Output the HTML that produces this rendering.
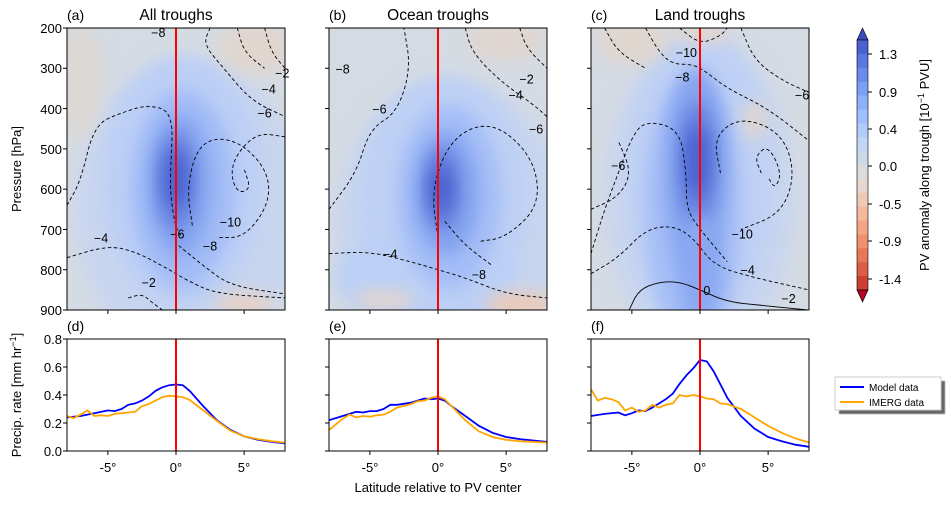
<!DOCTYPE html>
<html><head><meta charset="utf-8"><style>
html,body{margin:0;padding:0;background:#fff;}
svg text{font-family:"Liberation Sans","DejaVu Sans",sans-serif;fill:#000;}
</style></head><body>
<svg id="s" width="951" height="500" viewBox="0 0 951 500" xmlns="http://www.w3.org/2000/svg">
<defs>
<filter id="bl" x="-50%" y="-50%" width="200%" height="200%"><feGaussianBlur stdDeviation="8"/></filter>
<clipPath id="ca"><rect x="67" y="28" width="218" height="282"/></clipPath>
<clipPath id="cb"><rect x="329" y="28" width="218" height="282"/></clipPath>
<clipPath id="cc"><rect x="591" y="28" width="218" height="282"/></clipPath>
<filter id="sh"><feOffset dx="2" dy="2"/><feGaussianBlur stdDeviation="0.5"/></filter>
</defs>
<g id="fields"></g>
<g id="lines"></g>
<g id="axes"></g>

<g font-size="14">
<text x="67" y="20" font-size="14">(a)</text><text x="176" y="20" text-anchor="middle" font-size="15.5">All troughs</text>
<text x="329" y="20">(b)</text><text x="438" y="20" text-anchor="middle" font-size="15.5">Ocean troughs</text>
<text x="591" y="20">(c)</text><text x="700" y="20" text-anchor="middle" font-size="15.5">Land troughs</text>
<text x="67" y="331">(d)</text><text x="329" y="331">(e)</text><text x="591" y="331">(f)</text>
</g>
<g font-size="13" text-anchor="end">
<text x="62" y="33">200</text><text x="62" y="73">300</text><text x="62" y="114">400</text><text x="62" y="154">500</text>
<text x="62" y="194">600</text><text x="62" y="235">700</text><text x="62" y="275">800</text><text x="62" y="315">900</text>
<text x="62" y="344">0.8</text><text x="62" y="372">0.6</text><text x="62" y="400">0.4</text><text x="62" y="428">0.2</text><text x="62" y="456">0.0</text>
</g>
<g font-size="13" text-anchor="middle">
<text x="108" y="472">-5°</text><text x="176" y="472">0°</text><text x="244" y="472">5°</text>
<text x="370" y="472">-5°</text><text x="438" y="472">0°</text><text x="506" y="472">5°</text>
<text x="632" y="472">-5°</text><text x="700" y="472">0°</text><text x="768" y="472">5°</text>
<text x="438" y="492">Latitude relative to PV center</text>
</g>
<text font-size="13" transform="translate(21,169) rotate(-90)" text-anchor="middle">Pressure [hPa]</text>
<text font-size="13" transform="translate(21,395) rotate(-90)" text-anchor="middle">Precip. rate [mm hr<tspan font-size="9" dy="-5">−1</tspan><tspan dy="5">]</tspan></text>

<g id="cbar"></g>
<g font-size="13">
<text x="879" y="59">1.3</text><text x="879" y="97">0.9</text><text x="879" y="134">0.4</text><text x="879" y="171">0.0</text>
<text x="879" y="209">-0.5</text><text x="879" y="246">-0.9</text><text x="879" y="284">-1.4</text>
</g>
<text font-size="13" transform="translate(929,165) rotate(-90)" text-anchor="middle">PV anomaly along trough [10<tspan font-size="9" dy="-5">−1</tspan><tspan dy="5"> PVU]</tspan></text>

<rect x="837" y="379" width="106" height="33" fill="#666" filter="url(#sh)"/>
<rect x="835" y="377" width="106" height="33" fill="#fff" stroke="#ccc"/>
<line x1="840" y1="387" x2="864" y2="387" stroke="#0000ff" stroke-width="2"/>
<line x1="840" y1="402" x2="864" y2="402" stroke="#ffa500" stroke-width="2"/>
<text x="869" y="391" font-size="10">Model data</text>
<text x="869" y="406" font-size="10">IMERG data</text>
</svg>
<script>
(function(){
const NS="http://www.w3.org/2000/svg";
function el(p,t,a){const e=document.createElementNS(NS,t);for(const k in a)e.setAttribute(k,a[k]);p.appendChild(e);return e;}
const X0=[67,329,591];
const px=(i,l)=>X0[i]+(l+8)*13.625;
const py=p=>28+(p-200)*0.4029;
const pyb=v=>451-v*140;
const F=document.getElementById('fields'),L=document.getElementById('lines'),A=document.getElementById('axes');
const clips=['ca','cb','cc'];
const blobs=[
 [[1,650,115,150,'#c8d5ef'],[0.5,580,80,125,'#bccff5'],[0.5,600,52,100,'#a3bcf7'],[0.3,590,32,72,'#86a5f0'],[0,580,20,50,'#6882e0'],[0,575,12,30,'#4a60cf'],
  [-7,330,20,60,'#ddd8d4'],[6,250,40,25,'#e0d6cf'],[5,885,30,12,'#e6d2c6']],
 [[1,680,115,140,'#c8d5ef'],[0.5,630,85,125,'#bdd0f4'],[-1,820,90,50,'#bcd0f5'],[0.8,620,52,92,'#a4bdf7'],[0.6,610,32,62,'#82a2ef'],[0.3,600,18,40,'#6079db'],[0.2,600,10,22,'#4a60cf'],
  [6,885,35,12,'#edcab6'],[5,230,40,20,'#dfd5cf'],[-4,875,30,10,'#e3d4cc']],
 [[0,620,95,160,'#c8d5ef'],[0,580,72,150,'#bed0f4'],[-0.5,650,48,135,'#a6bef7'],[-0.3,560,32,105,'#86a5f0'],[-0.2,540,20,64,'#6882e0'],[-0.2,530,12,36,'#4a60cf'],[0,800,22,55,'#8aa8f2'],
  [-5,230,35,25,'#dfd6cf'],[0,210,30,12,'#e0d6cf'],[4,430,12,20,'#e0d6cf']]
];
blobs.forEach((bs,i)=>{
 const g=el(F,'g',{'clip-path':`url(#${clips[i]})`});
 el(g,'rect',{x:X0[i],y:28,width:218,height:282,fill:'#d5dbe3'});
 bs.forEach(b=>el(g,'ellipse',{cx:px(i,b[0]),cy:py(b[1]),rx:b[2],ry:b[3],fill:b[4],filter:'url(#bl)'}));
});
const cont=[
 [0,[[-8,640],[-7,580],[-6,440],[-4,410],[-2,390],[-0.2,410],[-0.4,550],[-0.4,620],[0,700],[0.5,720]],1],
 [0,[[8,470],[6,460],[4.5,510],[4,560],[4.5,610],[5.5,600],[5,550]],1],
 [0,[[1.2,690],[0.8,600],[1.5,500],[3,470],[5,490],[6.8,560],[6.8,640],[5,720],[3,720]],1],
 [0,[[-8,770],[-5,740],[-3,755],[-1,790],[1,830],[3,860],[8,870]],1],
 [0,[[-3.5,870],[-2.5,860],[-1.8,880],[-1,900]],1],
 [0,[[2.5,200],[2,240],[3.5,300],[5.5,380],[8,420]],1],
 [0,[[4.5,200],[5,260],[6.5,300]],1],
 [0,[[6.5,200],[7,260],[8,300]],1],
 [0,[[0.2,740],[2,790],[4,840],[8,860]],1],
 [1,[[-8,650],[-6,560],[-5,450],[-3,410],[-2,300],[-2.5,200]],1],
 [1,[[0,720],[-0.5,600],[1,470],[4,430],[7,520],[7.5,640],[5,720],[3,730]],1],
 [1,[[-8,760],[-5,755],[-2,780],[0,800],[2,820],[5,860],[8,870]],1],
 [1,[[2,200],[2.5,260],[4.5,330],[7,390],[8,420]],1],
 [1,[[6,200],[6.5,250],[8,300]],1],
 [1,[[0.5,680],[2,740],[4,790]],1],
 [2,[[-8,760],[-7,650],[-6,560],[-5,470],[-4,430],[-1.5,450],[-1,560],[-1,650],[0,700],[2,780]],1],
 [2,[[1.5,560],[1,470],[3,420],[6,460],[7,560],[6,660],[3,700]],1],
 [2,[[4.5,560],[4,520],[5,490],[6,560],[5.5,600],[5,570]],1],
 [2,[[-8,810],[-6,770],[-4,700],[-2,690],[-0.5,720],[1,790],[4,820],[8,850]],1],
 [2,[[-8,650],[-6,620],[-5,560],[-6,480]],1],
 [2,[[-4,200],[-3,260],[-2,290],[-0.5,290],[0.5,310],[2,350],[5,400],[8,480]],1],
 [2,[[-1.5,200],[0,240],[1.5,220],[2,200]],1],
 [2,[[3,200],[4,280],[6,330],[8,360]],1],
 [2,[[-5.2,900],[-4.5,850],[-3,830],[-1.5,830],[0,850],[2,880],[5,890],[8,900]],0],
 [2,[[-7,200],[-6,260],[-4,300]],1]
];
function smooth(pts){let d=`M${pts[0][0]},${pts[0][1]}`;for(let k=1;k<pts.length;k++){const a=pts[k-1],b=pts[k];const mx=(a[0]+b[0])/2,my=(a[1]+b[1])/2;d+=` Q${a[0]},${a[1]} ${mx},${my}`;}const l=pts[pts.length-1];return d+` L${l[0]},${l[1]}`;}
cont.forEach(c=>{
 const pts=c[1].map(q=>[px(c[0],q[0]),py(q[1])]);
 const g=el(L,'g',{'clip-path':`url(#${clips[c[0]]})`});
 const at={d:smooth(pts),fill:'none',stroke:'#000','stroke-width':0.9};
 if(c[2])at['stroke-dasharray']='3.5,2.5';
 el(g,'path',at);
});
const labs=[[0,-1.3,210,'−8'],[0,7.8,310,'−2'],[0,6.8,350,'−4'],[0,6.5,410,'−6'],[0,4,680,'−10'],[0,0.1,710,'−6'],[0,2.5,740,'−8'],[0,-5.5,720,'−4'],[0,-2,830,'−2'],
 [1,-7,300,'−8'],[1,-4.3,400,'−6'],[1,6.5,325,'−2'],[1,5.7,365,'−4'],[1,7.2,450,'−6'],[1,-3.5,760,'−4'],[1,3,810,'−8'],
 [2,-1,260,'−10'],[2,-1.3,320,'−8'],[2,7.5,365,'−6'],[2,-6,540,'−6'],[2,3.1,710,'−10'],[2,3.5,800,'−4'],[2,6.5,870,'−2'],[2,0.5,850,'0']];
labs.forEach(t=>{const e=el(L,'text',{x:px(t[0],t[1]),y:py(t[2])+5,'font-size':12.5,'text-anchor':'middle'});e.textContent=t[3];});
for(let i=0;i<3;i++){
 const x0=X0[i];
 el(A,'line',{x1:px(i,0),y1:28,x2:px(i,0),y2:310,stroke:'#ff0000','stroke-width':2});
 el(A,'rect',{x:x0,y:28,width:218,height:282,fill:'none',stroke:'#000','stroke-width':1});
 el(A,'rect',{x:x0,y:339,width:218,height:112,fill:'none',stroke:'#000','stroke-width':1});
 [-5,0,5].forEach(l=>{el(A,'line',{x1:px(i,l),y1:310,x2:px(i,l),y2:314,stroke:'#000'});el(A,'line',{x1:px(i,l),y1:451,x2:px(i,l),y2:455,stroke:'#000'});});
 for(let p=200;p<=900;p+=100)el(A,'line',{x1:x0-4,y1:py(p),x2:x0,y2:py(p),stroke:'#000'});
 for(let k=0;k<=4;k++)el(A,'line',{x1:x0-4,y1:pyb(k*0.2),x2:x0,y2:pyb(k*0.2),stroke:'#000'});
}
const P=[
 [[[-8,.24],[-7,.25],[-6,.27],[-5,.29],[-4.5,.285],[-4,.3],[-3.5,.33],[-3,.34],[-2.5,.36],[-2,.39],[-1.5,.43],[-1,.455],[-0.5,.47],[0,.475],[0.5,.47],[1,.43],[2,.32],[3,.22],[4,.15],[5,.105],[6,.08],[7,.065],[8,.055]],
  [[-8,.25],[-7.5,.235],[-7,.26],[-6.5,.29],[-6,.25],[-5.5,.255],[-5,.25],[-4.5,.265],[-4,.27],[-3,.28],[-2.5,.32],[-2,.335],[-1.5,.36],[-1,.385],[-0.5,.395],[0,.39],[0.5,.385],[1,.365],[2,.29],[3,.215],[4,.145],[5,.105],[6,.085],[7,.07],[8,.06]]],
 [[[-8,.22],[-7,.25],[-6,.28],[-5.5,.275],[-5,.285],[-4.5,.285],[-4,.3],[-3.5,.33],[-3,.33],[-2,.345],[-1.5,.36],[-1,.375],[-0.5,.37],[0,.375],[0.5,.36],[1,.32],[2,.25],[3,.18],[4,.13],[5,.1],[6,.085],[7,.075],[8,.065]],
  [[-8,.15],[-7.5,.19],[-7,.23],[-6.5,.26],[-6,.24],[-5.5,.25],[-5,.245],[-4.5,.255],[-4,.26],[-3.5,.28],[-3,.31],[-2,.335],[-1.5,.355],[-1,.36],[-0.5,.38],[0,.39],[0.5,.37],[1,.32],[2,.22],[3,.14],[4,.1],[5,.08],[6,.07],[8,.06]]],
 [[[-8,.25],[-7,.265],[-6,.275],[-5.5,.255],[-5,.27],[-4.5,.29],[-4,.285],[-3.5,.31],[-3,.34],[-2.5,.37],[-2,.41],[-1.5,.48],[-1,.54],[-0.5,.59],[0,.65],[0.5,.64],[1,.57],[2,.38],[3,.25],[4,.16],[5,.1],[6,.07],[7,.045],[8,.03]],
  [[-8,.44],[-7.5,.36],[-7,.38],[-6.5,.37],[-6,.35],[-5.5,.29],[-5,.31],[-4.5,.28],[-4,.29],[-3.5,.33],[-3,.31],[-2.5,.33],[-2,.34],[-1.5,.4],[-1,.39],[-0.5,.4],[0,.39],[0.5,.375],[1,.37],[1.5,.34],[2,.335],[3,.3],[4,.24],[5,.18],[6,.13],[7,.09],[8,.06]]]
];
const lc=['#0000ff','#ffa500'];
P.forEach((pp,i)=>{
 const g=el(L,'g',{});
 pp.forEach((ser,j)=>{
  const d='M'+ser.map(q=>`${px(i,q[0]).toFixed(1)},${pyb(q[1]).toFixed(1)}`).join(' L');
  el(g,'path',{d:d,fill:'none',stroke:lc[j],'stroke-width':1.8});
 });
 el(g,'line',{x1:px(i,0),y1:339,x2:px(i,0),y2:451,stroke:'#ff0000','stroke-width':2});
});
const C=document.getElementById('cbar');
const cols=['#4a62d0','#5a78e0','#6a8bec','#7b9ff5','#8db0fb','#9fbffe','#b1cbfc','#c3d5f4','#cdd8e8','#dcdcdf','#e4d8d0','#eecab4','#f4b99d','#f5a585','#f1906e','#e87758','#dc5d45','#cc4033'];
const cTop=40,cBot=290,n=cols.length,h=(cBot-cTop)/n;
el(C,'polygon',{points:`857,${cTop} 862.5,28 868,${cTop}`,fill:'#3b4cc0',stroke:'#000','stroke-width':0.6});
for(let k=0;k<n;k++)el(C,'rect',{x:857,y:cTop+k*h,width:11,height:h+0.5,fill:cols[k]});
el(C,'polygon',{points:`857,${cBot} 862.5,302 868,${cBot}`,fill:'#b40426',stroke:'#000','stroke-width':0.6});
el(C,'rect',{x:857,y:cTop,width:11,height:cBot-cTop,fill:'none',stroke:'#000','stroke-width':0.6});
[54,92,129,166,204,241,279].forEach(y=>el(C,'line',{x1:868,y1:y,x2:872,y2:y,stroke:'#000'}));
})();
</script>
</body></html>
